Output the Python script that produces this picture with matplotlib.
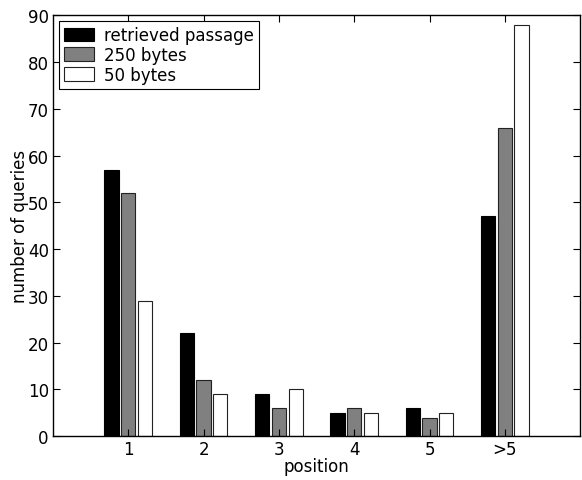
import numpy as np
import matplotlib
matplotlib.use("Agg")
import matplotlib.pyplot as plt

plt.rcParams.update({
    "font.family": "DejaVu Sans",
    "font.size": 12,
})

positions = ["1", "2", "3", "4", "5", ">5"]
retrieved = [57, 22, 9, 5, 6, 47]
bytes250 = [52, 12, 6, 6, 4, 66]
bytes50 = [29, 9, 10, 5, 5, 88]

fig = plt.figure(figsize=(5.82, 4.81), dpi=100)
ax = fig.add_axes([0.091, 0.091, 0.906, 0.875])

x = np.arange(1, len(positions) + 1)
w = 0.19
off = 0.222
ax.bar(x - off, retrieved, w, color="black", edgecolor="black", linewidth=0.8,
       label="retrieved passage")
ax.bar(x, bytes250, w, color="#808080", edgecolor="#222222", linewidth=0.8,
       label="250 bytes")
ax.bar(x + off, bytes50, w, color="white", edgecolor="#222222", linewidth=0.8,
       label="50 bytes")

ax.set_xlim(0, 7)
ax.set_ylim(0, 90)
ax.set_xticks(x)
ax.set_xticklabels(positions)
ax.set_yticks(np.arange(0, 91, 10))
ax.tick_params(direction="in", top=True, right=True, length=5, width=0.8,
               labelsize=12, colors="black", pad=3)
for s in ax.spines.values():
    s.set_linewidth(1.0)

ax.set_xlabel("position", labelpad=-1)
ax.set_ylabel("number of queries", labelpad=-1)

leg = ax.legend(loc="upper left", fancybox=False, edgecolor="black",
                framealpha=1, borderaxespad=0.35, handlelength=1.8,
                handleheight=0.9, labelspacing=0.1, borderpad=0.3,
                handletextpad=0.6)
leg.get_frame().set_linewidth(0.8)

fig.savefig("out.png", dpi=100)
